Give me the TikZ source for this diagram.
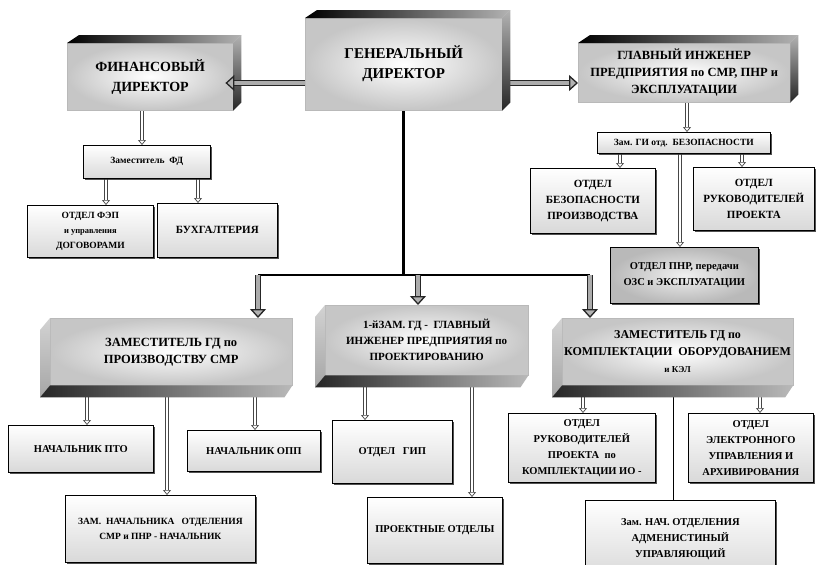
\documentclass[tikz,border=0pt]{standalone}
\usepackage{fontspec}
\setmainfont{Liberation Serif}
\usetikzlibrary{arrows.meta,shadows,backgrounds,calc}
\newcommand\topfaces[1]{%
  \shade[topface] (#1.north west) -- ++(12,-8) -- ($(#1.north east)+(8,-8)$) -- (#1.north east) -- cycle;
  \shade[sideface] (#1.north east) -- ++(8,-8) -- ($(#1.south east)+(8,-8)$) -- (#1.south east) -- cycle;}
\newcommand\botfaces[1]{%
  \shade[leftface] (#1.north west) -- ++(-10,12) -- ($(#1.south west)+(-10,12)$) -- (#1.south west) -- cycle;
  \shade[bottomface] (#1.south west) -- ++(-10,12) -- ($(#1.south east)+(-8,12)$) -- (#1.south east) -- cycle;}
\begin{document}
\begin{tikzpicture}[x=1pt,y=-1pt,
  base/.style={anchor=north west, align=center, inner sep=2pt, text=black},
  flat/.style={base, draw=black, line width=0.7pt, top color=white, bottom color=gray!30,
     drop shadow={shadow xshift=1.6pt, shadow yshift=-1.6pt, opacity=0.85, fill=black!80}},
  raised/.style={base, draw=gray!55, line width=0.4pt, inner color=white, outer color=gray!45},
  topface/.style={left color=black, right color=gray!60},
  sideface/.style={top color=gray!60, bottom color=black!85},
  leftface/.style={top color=gray!35, bottom color=gray!70},
  bottomface/.style={left color=black!85, right color=gray!55},
  dar/.style={draw=gray!55!black, double=white, double distance=2.4pt, line width=0.7pt,
     -{Triangle[open, length=5pt, width=8pt]}},
  big/.style={draw=black!85, double=gray!65, double distance=4pt, line width=1.3pt,
     -{Triangle[open, fill=gray!60, length=9pt, width=16pt]}},
  trunk/.style={draw=black, line width=2.6pt},
  thin/.style={draw=black, line width=1pt},
  f15/.style={font=\bfseries\fontsize{15}{20}\selectfont},
  f14/.style={font=\bfseries\fontsize{14}{20}\selectfont},
  f13/.style={font=\bfseries\fontsize{12.5}{17}\selectfont},
  f12/.style={font=\bfseries\fontsize{12}{17}\selectfont},
  f11/.style={font=\bfseries\fontsize{11}{16}\selectfont},
  f10/.style={font=\bfseries\fontsize{10.5}{16}\selectfont},
  f9/.style={font=\bfseries\fontsize{9.5}{15}\selectfont}]
\useasboundingbox (0,0) rectangle (817,565);

% ---------- top row
\node[raised, f15, minimum width=197pt, minimum height=92pt] (gd) at (305,18) {ГЕНЕРАЛЬНЫЙ\\ДИРЕКТОР};
\topfaces{gd}
\node[raised, f14, minimum width=166pt, minimum height=67pt] (fin) at (67,43) {ФИНАНСОВЫЙ\\ДИРЕКТОР};
\topfaces{fin}
\node[raised, f13, minimum width=212pt, minimum height=59pt] (chief) at (578,43) {ГЛАВНЫЙ ИНЖЕНЕР\\ПРЕДПРИЯТИЯ по СМР, ПНР и\\ЭКСПЛУАТАЦИИ};
\topfaces{chief}

% ---------- financial branch
\node[flat, f9, minimum width=127pt, minimum height=33pt] (fd) at (83,145) {Заместитель\ \ ФД};
\node[flat, f9, minimum width=126pt, minimum height=52pt] (fep) at (27,205) {ОТДЕЛ ФЭП\\{\fontsize{8.5}{15}\selectfont и управления}\\ДОГОВОРАМИ};
\node[flat, f11, minimum width=120pt, minimum height=54pt] (buh) at (157,203) {БУХГАЛТЕРИЯ};

% ---------- chief engineer branch
\node[flat, f9, minimum width=173pt, minimum height=21pt, inner sep=1pt] (zgi) at (597,132) {Зам. ГИ отд.\ \ БЕЗОПАСНОСТИ};
\node[flat, f11, minimum width=125pt, minimum height=65pt] (obp) at (530,168) {ОТДЕЛ\\БЕЗОПАСНОСТИ\\ПРОИЗВОДСТВА};
\node[flat, f11, minimum width=121pt, minimum height=63pt] (orp) at (693,167) {ОТДЕЛ\\РУКОВОДИТЕЛЕЙ\\ПРОЕКТА};
\node[flat, f10, minimum width=148pt, minimum height=56pt, inner color=gray!12, outer color=gray!55] (pnr) at (610,247) {ОТДЕЛ ПНР, передачи\\ОЗС и ЭКСПЛУАТАЦИИ};

% ---------- middle row
\node[raised, f13, minimum width=242pt, minimum height=67pt] (zp) at (50,318) {ЗАМЕСТИТЕЛЬ ГД по\\ПРОИЗВОДСТВУ СМР};
\botfaces{zp}
\node[raised, f11, minimum width=203pt, minimum height=70pt] (z1) at (325,305) {1-йЗАМ. ГД -\ \ ГЛАВНЫЙ\\ИНЖЕНЕР ПРЕДПРИЯТИЯ по\\ПРОЕКТИРОВАНИЮ};
\botfaces{z1}
\node[raised, f12, minimum width=226pt, minimum height=67pt, text depth=0pt] (zk) at (562,318) {ЗАМЕСТИТЕЛЬ ГД по\\КОМПЛЕКТАЦИИ\ \ ОБОРУДОВАНИЕМ\\{\fontsize{9}{17}\selectfont и КЭЛ}};
\botfaces{zk}

% ---------- bottom row
\node[flat, f10, minimum width=145pt, minimum height=47pt] (pto) at (8,425) {НАЧАЛЬНИК ПТО};
\node[flat, f10, minimum width=133pt, minimum height=41pt] (opp) at (187,430) {НАЧАЛЬНИК ОПП};
\node[flat, f9, minimum width=190pt, minimum height=67pt] (znach) at (65,495) {ЗАМ.\ \ НАЧАЛЬНИКА\ \ \ ОТДЕЛЕНИЯ\\СМР и ПНР - НАЧАЛЬНИК};
\node[flat, f10, minimum width=120pt, minimum height=63pt] (gip) at (332,420) {ОТДЕЛ\ \ \ ГИП};
\node[flat, f10, minimum width=135pt, minimum height=66pt] (proj) at (367,497) {ПРОЕКТНЫЕ\ ОТДЕЛЫ};
\node[flat, f10, minimum width=147pt, minimum height=69pt] (rpk) at (508,413) {ОТДЕЛ\\РУКОВОДИТЕЛЕЙ\\ПРОЕКТА\ \ по\\КОМПЛЕКТАЦИИ ИО -};
\node[flat, f10, minimum width=125pt, minimum height=69pt] (eua) at (688,413) {ОТДЕЛ\\ЭЛЕКТРОННОГО\\УПРАВЛЕНИЯ И\\АРХИВИРОВАНИЯ};
\node[flat, f10, minimum width=190pt, minimum height=78pt] (adm) at (585,500) {Зам. НАЧ. ОТДЕЛЕНИЯ\\АДМЕНИСТИНЫЙ\\УПРАВЛЯЮЩИЙ};

% ---------- connectors
\coordinate (hy) at (0,83);
\coordinate (busL) at (258,275);
\coordinate (busM) at (418,275);
\coordinate (busR) at (590,275);
\foreach \n/\x in {a/142, b/106, c/198, d/687, e/620, f/742, g/680, h/87, i/167, j/255, k/365, l/472, m/583, n/760, o/673}
  \coordinate (x\n) at (\x,0);
\draw[big, shorten >=-8pt] (gd.west |- hy) -- (fin.east |- hy);
\begin{pgfonlayer}{background}
  \fill[white] (0,0) rectangle (817,565);
  \draw[big] (gd.east |- hy) -- (chief.west |- hy);
  \draw[trunk] (gd.south) -- (gd.south |- busL);
  \draw[trunk] (busL) -- (busR);
  \draw[big] (busL) -- (zp.north -| busL);
  \draw[big] (busM) -- (z1.north -| busM);
  \draw[big] (busR) -- (zk.north -| busR);
  \draw[dar] (fin.south -| xa) -- (fd.north -| xa);
  \draw[dar] (fd.south -| xb) -- (fep.north -| xb);
  \draw[dar] (fd.south -| xc) -- (buh.north -| xc);
  \draw[dar] (chief.south -| xd) -- (zgi.north -| xd);
  \draw[dar] (zgi.south -| xe) -- (obp.north -| xe);
  \draw[dar] (zgi.south -| xf) -- (orp.north -| xf);
  \draw[dar] (zgi.south -| xg) -- (pnr.north -| xg);
  \draw[dar] (zp.south -| xh) -- (pto.north -| xh);
  \draw[dar] (zp.south -| xi) -- (znach.north -| xi);
  \draw[dar] (zp.south -| xj) -- (opp.north -| xj);
  \draw[dar] (z1.south -| xk) -- (gip.north -| xk);
  \draw[dar] (z1.south -| xl) -- (proj.north -| xl);
  \draw[dar] (zk.south -| xm) -- (rpk.north -| xm);
  \draw[dar] (zk.south -| xn) -- (eua.north -| xn);
  \draw[thin] (zk.south -| xo) -- (adm.north -| xo);
\end{pgfonlayer}
\end{tikzpicture}
\end{document}
